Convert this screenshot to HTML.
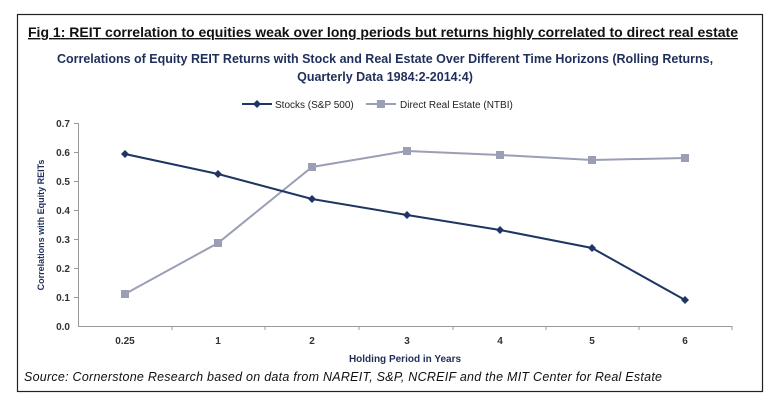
<!DOCTYPE html>
<html><head><meta charset="utf-8"><style>
body{margin:0;width:770px;height:402px;background:#fff;overflow:hidden}
</style></head><body>
<svg width="770" height="402" xmlns="http://www.w3.org/2000/svg" font-family="Liberation Sans, sans-serif">
<rect x="17.5" y="14.5" width="745" height="377" fill="none" stroke="#222" stroke-width="1.2"/>
<text x="28" y="37" font-size="14" font-weight="bold" text-decoration="underline" fill="#111" textLength="710">Fig 1: REIT correlation to equities weak over long periods but returns highly correlated to direct real estate</text>
<text x="385" y="63" font-size="12.5" font-weight="bold" fill="#1f2f5a" text-anchor="middle">Correlations of Equity REIT Returns with Stock and Real Estate Over Different Time Horizons (Rolling Returns,</text>
<text x="385" y="81" font-size="12.5" font-weight="bold" fill="#1f2f5a" text-anchor="middle">Quarterly Data 1984:2-2014:4)</text>
<line x1="242" y1="104" x2="272" y2="104" stroke="#1f3564" stroke-width="2"/>
<path d="M257 100 L261 104 L257 108 L253 104Z" fill="#1f3564"/>
<text x="275" y="108" font-size="10" fill="#222">Stocks (S&amp;P 500)</text>
<line x1="366" y1="104" x2="396" y2="104" stroke="#9a9fb5" stroke-width="2"/>
<rect x="377" y="100" width="8" height="8" fill="#9a9fb5"/>
<text x="400" y="108" font-size="10" fill="#222">Direct Real Estate (NTBI)</text>
<g font-size="10" fill="#333" text-anchor="end" font-weight="bold">
<text x="70" y="127">0.7</text><text x="70" y="156">0.6</text><text x="70" y="185">0.5</text><text x="70" y="214">0.4</text><text x="70" y="243">0.3</text><text x="70" y="272">0.2</text><text x="70" y="301">0.1</text><text x="70" y="330">0.0</text>
</g>
<line x1="78.5" y1="123" x2="78.5" y2="326" stroke="#999"/>
<line x1="78" y1="326.5" x2="732" y2="326.5" stroke="#999"/>
<g stroke="#999">
<line x1="74" y1="123.5" x2="78" y2="123.5"/><line x1="74" y1="152.5" x2="78" y2="152.5"/><line x1="74" y1="181.5" x2="78" y2="181.5"/><line x1="74" y1="210.5" x2="78" y2="210.5"/><line x1="74" y1="239.5" x2="78" y2="239.5"/><line x1="74" y1="268.5" x2="78" y2="268.5"/><line x1="74" y1="297.5" x2="78" y2="297.5"/>
<line x1="172" y1="326" x2="172" y2="330"/><line x1="265" y1="326" x2="265" y2="330"/><line x1="359" y1="326" x2="359" y2="330"/><line x1="453" y1="326" x2="453" y2="330"/><line x1="546" y1="326" x2="546" y2="330"/><line x1="639" y1="326" x2="639" y2="330"/><line x1="732" y1="326" x2="732" y2="330"/>
</g>
<g font-size="10" fill="#333" text-anchor="middle" font-weight="bold">
<text x="125" y="344">0.25</text><text x="218" y="344">1</text><text x="312" y="344">2</text><text x="407" y="344">3</text><text x="500" y="344">4</text><text x="592" y="344">5</text><text x="685" y="344">6</text>
</g>
<text x="405" y="362" font-size="10" font-weight="bold" fill="#1f2f5a" text-anchor="middle">Holding Period in Years</text>
<text transform="translate(44,225) rotate(-90)" font-size="9" font-weight="bold" fill="#1f2f5a" text-anchor="middle">Correlations with Equity REITs</text>
<polyline points="125,294 218,243 312,167 407,151 500,155 592,160 685,158" fill="none" stroke="#9a9fb5" stroke-width="2"/>
<g fill="#9a9fb5">
<rect x="121" y="290" width="8" height="8"/><rect x="214" y="239" width="8" height="8"/><rect x="308" y="163" width="8" height="8"/><rect x="403" y="147" width="8" height="8"/><rect x="496" y="151" width="8" height="8"/><rect x="588" y="156" width="8" height="8"/><rect x="681" y="154" width="8" height="8"/>
</g>
<polyline points="125,154 218,174 312,199 407,215 500,230 592,248 685,300" fill="none" stroke="#1f3564" stroke-width="2"/>
<g fill="#1f3564">
<path d="M125 150l4 4-4 4-4-4z"/><path d="M218 170l4 4-4 4-4-4z"/><path d="M312 195l4 4-4 4-4-4z"/><path d="M407 211l4 4-4 4-4-4z"/><path d="M500 226l4 4-4 4-4-4z"/><path d="M592 244l4 4-4 4-4-4z"/><path d="M685 296l4 4-4 4-4-4z"/>
</g>
<text x="24" y="381" font-size="12.5" font-style="italic" fill="#111" textLength="638">Source: Cornerstone Research based on data from NAREIT, S&amp;P, NCREIF and the MIT Center for Real Estate</text>
</svg>
</body></html>
